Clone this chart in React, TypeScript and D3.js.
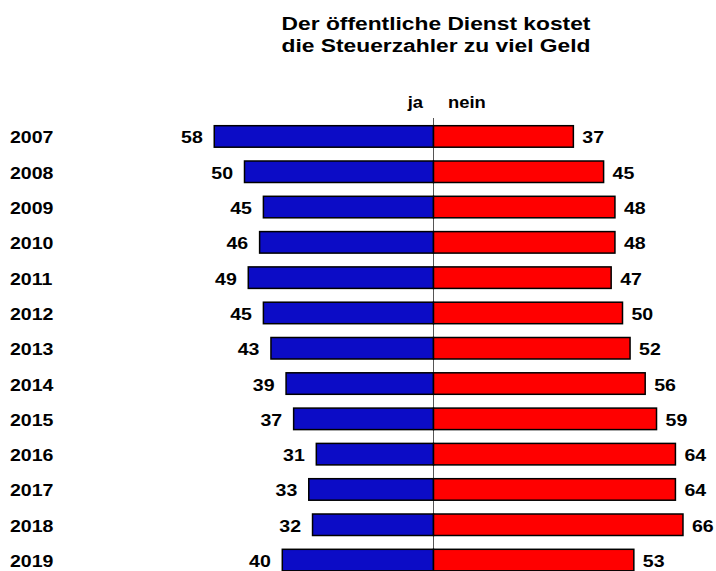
import React from "react";
import * as d3 from "d3";

const years = ["2007","2008","2009","2010","2011","2012","2013","2014","2015","2016","2017","2018","2019"];
const ja = [58,50,45,46,49,45,43,39,37,31,33,32,40];
const nein = [37,45,48,48,47,50,52,56,59,64,64,66,53];
const titleLines = ["Der öffentliche Dienst kostet", "die Steuerzahler zu viel Geld"];
const seriesLabels = ["ja", "nein"];

const SX = 1.15;

function T(props: { x: number; y: number; size: number; anchor?: string; sx?: number; children: React.ReactNode }) {
  const { x, y, size, anchor = "start", sx = SX, children } = props;
  return (
    <text transform={`translate(${x},${y}) scale(${sx},1)`} textAnchor={anchor as any} fontWeight="bold" fontSize={size}>
      {children}
    </text>
  );
}

export default function App() {
  const W = 716, H = 571;
  const cx = 433.5;
  const k = 3.78;
  const xL = d3.scaleLinear().domain([0, 100]).range([cx, cx - 100 * k]);
  const xR = d3.scaleLinear().domain([0, 100]).range([cx, cx + 100 * k]);
  const y = d3.scaleBand().domain(years).range([125.7, 570.8]).paddingInner(0.391).paddingOuter(0);
  const font = "'Liberation Sans', Arial, sans-serif";
  const bh = y.bandwidth();
  return (
    <svg width={W} height={H} style={{ position: "absolute", left: 0, top: 0 }} fontFamily={font}>
      <rect width={W} height={H} fill="#fff" />
      {titleLines.map((t, i) => (
        <T key={i} x={436} y={30 + i * 22} size={19} anchor="middle" sx={1.2}>{t}</T>
      ))}
      <T x={423} y={108} size={16} anchor="end">{seriesLabels[0]}</T>
      <T x={448} y={108} size={16} anchor="start">{seriesLabels[1]}</T>
      <line x1={cx} x2={cx} y1={118} y2={571} stroke="#555" strokeWidth={1} />
      {years.map((yr, i) => {
        const y0 = y(yr)!;
        const ym = y0 + bh / 2;
        return (
          <g key={yr}>
            <T x={10} y={ym + 7} size={17}>{yr}</T>
            <rect x={xL(ja[i])} y={y0} width={cx - xL(ja[i])} height={bh} fill="#0c0cc6" stroke="#000" strokeWidth={1.5} />
            <rect x={cx} y={y0} width={xR(nein[i]) - cx} height={bh} fill="#ff0000" stroke="#000" strokeWidth={1.5} />
            <T x={xL(ja[i]) - 11.5} y={ym + 7} size={17} anchor="end">{ja[i]}</T>
            <T x={xR(nein[i]) + 9} y={ym + 7} size={17} anchor="start">{nein[i]}</T>
          </g>
        );
      })}
    </svg>
  );
}
